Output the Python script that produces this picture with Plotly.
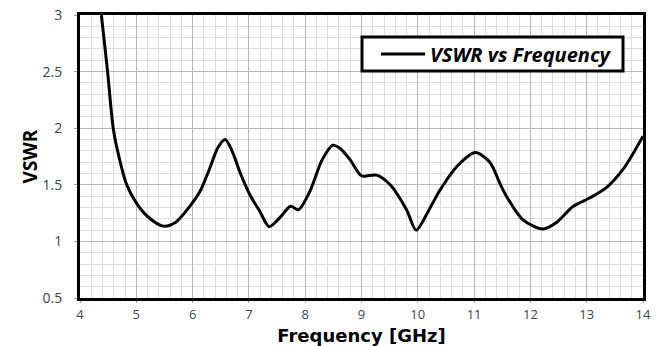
import plotly.graph_objects as go

freq = [4.38, 4.49, 4.59, 4.70, 4.83, 5.00, 5.20, 5.48, 5.70, 5.95, 6.13, 6.30, 6.45, 6.58,
        6.70, 6.85, 7.02, 7.20, 7.36, 7.55, 7.74, 7.88, 8.09, 8.30, 8.49, 8.62, 8.80, 9.00,
        9.27, 9.51, 9.80, 9.97, 10.20, 10.39, 10.69, 11.02, 11.28, 11.46, 11.58, 11.87,
        12.22, 12.47, 12.76, 13.06, 13.36, 13.65, 14.00]
vswr = [3.00, 2.50, 2.00, 1.73, 1.50, 1.34, 1.22, 1.135, 1.17, 1.31, 1.44, 1.64, 1.83, 1.90,
        1.80, 1.60, 1.41, 1.26, 1.13, 1.21, 1.31, 1.28, 1.45, 1.72, 1.85, 1.82, 1.72, 1.58,
        1.585, 1.50, 1.28, 1.10, 1.28, 1.45, 1.66, 1.785, 1.70, 1.51, 1.395, 1.19,
        1.11, 1.17, 1.31, 1.385, 1.48, 1.64, 1.93]

x_ticks = [4, 5, 6, 7, 8, 9, 10, 11, 12, 13, 14]
y_ticks = [0.5, 1, 1.5, 2, 2.5, 3]
y_tick_labels = ["0.5", "1", "1.5", "2", "2.5", "3"]

FONT = "Open Sans"
TITLE_FONT = "DejaVu Sans"
TICKCOL = "#404552"

fig = go.Figure()
fig.add_trace(go.Scatter(
    x=freq, y=vswr, mode="lines", name="VSWR vs Frequency",
    line=dict(color="black", width=3, shape="spline", smoothing=0.8),
))

fig.update_layout(
    width=662, height=346,
    margin=dict(l=80, r=19, t=15, b=48),
    paper_bgcolor="white", plot_bgcolor="white",
    font=dict(family=FONT, color=TICKCOL),
    showlegend=True,
    legend=dict(
        x=(376 - 80) / 563, y=(298 - 54) / 283, xanchor="left", yanchor="middle",
        bgcolor="rgba(0,0,0,0)", borderwidth=0,
        font=dict(family=FONT, size=20, color="black", weight="bold", style="italic"),
        itemwidth=44,
    ),
    shapes=[dict(type="rect", xref="paper", yref="paper",
                 x0=(362 - 80) / 563, x1=(623 - 80) / 563,
                 y0=(298 - 71) / 283, y1=(298 - 37) / 283,
                 line=dict(color="black", width=3), fillcolor="white", layer="above")],
    xaxis=dict(
        range=[4, 14], tickvals=x_ticks, automargin=False,
        showgrid=True, gridcolor="#b8b8b8", gridwidth=1,
        minor=dict(dtick=0.2, showgrid=True, gridcolor="#dedede", gridwidth=1),
        showline=True, linecolor="black", linewidth=3, mirror=True,
        ticks="outside", ticklen=2, tickcolor="#999", ticklabelstandoff=0,
        tickfont=dict(size=13, color=TICKCOL, family=FONT),
        title=dict(text="Frequency [GHz]", standoff=9,
                   font=dict(size=18, color="black", family=TITLE_FONT, weight="bold")),
        zeroline=False,
    ),
    yaxis=dict(
        range=[0.5, 3], tickvals=y_ticks, ticktext=y_tick_labels, automargin=False,
        showgrid=True, gridcolor="#b8b8b8", gridwidth=1,
        minor=dict(dtick=0.1, showgrid=True, gridcolor="#dedede", gridwidth=1),
        showline=True, linecolor="black", linewidth=3, mirror=True,
        ticks="outside", ticklen=3, tickcolor="#999", ticklabelstandoff=9,
        tickfont=dict(size=14, color=TICKCOL, family=FONT),
        title=dict(text="VSWR", standoff=0,
                   font=dict(size=19, color="black", family=FONT, weight="bold")),
        zeroline=False,
    ),
)

fig.write_html("out.html", config={"displayModeBar": False},
               post_script="document.body.style.margin='0';document.body.style.overflow='hidden';")
